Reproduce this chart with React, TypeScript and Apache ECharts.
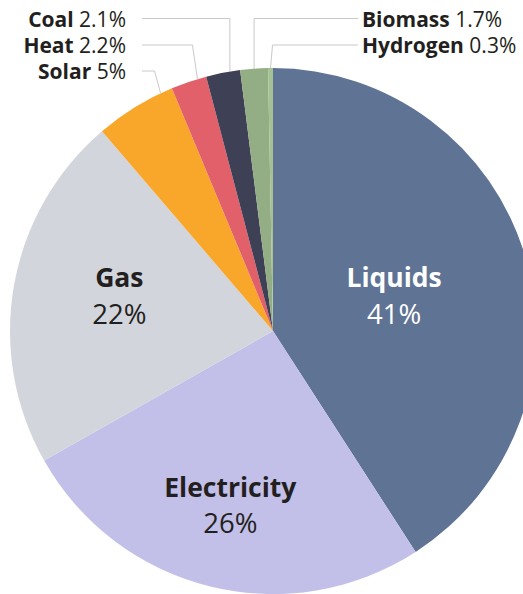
import { useEffect, useRef } from 'react';
import * as echarts from 'echarts';

// Share of final energy use by carrier (%)
const categories = ['Liquids', 'Electricity', 'Gas', 'Solar', 'Heat', 'Coal', 'Biomass', 'Hydrogen'];
const shares = [41, 26, 22, 5, 2.2, 2.1, 1.7, 0.3];
const sliceColors = ['#5f7394', '#c2c0e8', '#d2d5dc', '#f9a72a', '#e2606a', '#3e4156', '#93ae84', '#a6c096'];

// Big slices carry their label inside the slice.
const insideNames = ['Liquids', 'Electricity', 'Gas'];
const insideRadiusFrac = [0.48, 0.68, 0.6];
const insideAngleFrac = [0.5, 0.5, 0.54];
const insideLabelColors = ['#ffffff', '#231f20', '#231f20'];

// Small slices are labelled above the pie with leader lines.
const outerNames = ['Coal', 'Heat', 'Solar', 'Biomass', 'Hydrogen'];
const outerSide = ['left', 'left', 'left', 'right', 'right'];
const outerRow = [0, 1, 2, 0, 1];
const outerAnchorFrac = [0.7, 0.75, 0.85, 0.5, 0.5];
const outerBend = [0, -5, -6, 0, 2];

const FONT = '"Open Sans", "Noto Sans", sans-serif';
const CX = 273;
const CY = 331;
const R = 263;
const ROW_Y = [18.5, 45, 71];
const LEFT_LABEL_X = 126;
const LEFT_LINE_X = 142;
const RIGHT_LABEL_X = 362;
const RIGHT_LINE_X = 358;

const total = shares.reduce((a, b) => a + b, 0);

// Point on the pie for a cumulative fraction (clockwise from 12 o'clock).
function polar(frac: number, radius: number): [number, number] {
  const t = frac * Math.PI * 2;
  return [CX + radius * Math.sin(t), CY - radius * Math.cos(t)];
}

function sliceFrac(index: number, within: number): number {
  let acc = 0;
  for (let i = 0; i < index; i++) acc += shares[i];
  return (acc + shares[index] * within) / total;
}

export default function App() {
  const ref = useRef<HTMLDivElement>(null);

  useEffect(() => {
    if (!ref.current) return;
    const chart = echarts.init(ref.current, undefined, { renderer: 'svg' });

    const data = categories.map((name, i) => {
      const inIdx = insideNames.indexOf(name);
      const item: any = {
        name,
        value: shares[i],
        itemStyle: { color: sliceColors[i] },
      };
      if (inIdx >= 0) {
        item.label = {
          position: 'inside',
          formatter: `{n|${name}}\n{p|${shares[i]}%}`,
          rich: {
            n: { fontFamily: FONT, fontSize: 26.5, fontWeight: 'bold', color: insideLabelColors[inIdx], lineHeight: 36, align: 'center' },
            p: { fontFamily: FONT, fontSize: 27.5, fontWeight: 'normal', color: insideLabelColors[inIdx], lineHeight: 36, align: 'center' },
          },
        };
        item.labelLine = { show: false };
      }
      return item;
    });

    chart.setOption({
      animation: false,
      backgroundColor: '#ffffff',
      series: [
        {
          type: 'pie',
          center: [CX, CY],
          radius: R,
          startAngle: 90,
          clockwise: true,
          avoidLabelOverlap: false,
          silent: true,
          label: {
            show: true,
            position: 'outside',
            formatter: (p: any) => `{n|${p.name}} {v|${p.value}%}`,
            rich: {
              n: { fontFamily: FONT, fontSize: 21, fontWeight: 'bold', color: '#231f20', lineHeight: 22 },
              v: { fontFamily: FONT, fontSize: 21, fontWeight: 'normal', color: '#231f20', lineHeight: 22 },
            },
            fontFamily: FONT,
            fontSize: 21,
            lineHeight: 22,
            color: '#231f20',
          },
          labelLine: {
            show: true,
            length: 10,
            length2: 10,
            lineStyle: { color: '#c9c9c9', width: 1 },
          },
          labelLayout: (params: any) => {
            const name = categories[params.dataIndex];
            const inIdx = insideNames.indexOf(name);
            if (inIdx >= 0) {
              const [x, y] = polar(sliceFrac(params.dataIndex, insideAngleFrac[inIdx]), R * insideRadiusFrac[inIdx]);
              return { x, y, align: 'center', verticalAlign: 'middle' };
            }
            const o = outerNames.indexOf(name);
            const rowY = ROW_Y[outerRow[o]];
            const [ax, ay] = polar(sliceFrac(params.dataIndex, outerAnchorFrac[o]), R);
            const left = outerSide[o] === 'left';
            return {
              x: left ? LEFT_LABEL_X : RIGHT_LABEL_X,
              y: rowY,
              align: left ? 'right' : 'left',
              verticalAlign: 'middle',
              labelLinePoints: [
                [ax, ay],
                [ax + outerBend[o], rowY],
                [left ? LEFT_LINE_X : RIGHT_LINE_X, rowY],
              ],
            };
          },
          data,
        },
      ],
    });

    return () => chart.dispose();
  }, []);

  return (
    <div
      ref={ref}
      style={{ position: 'fixed', left: 0, top: 0, width: 523, height: 594 }}
    />
  );
}
